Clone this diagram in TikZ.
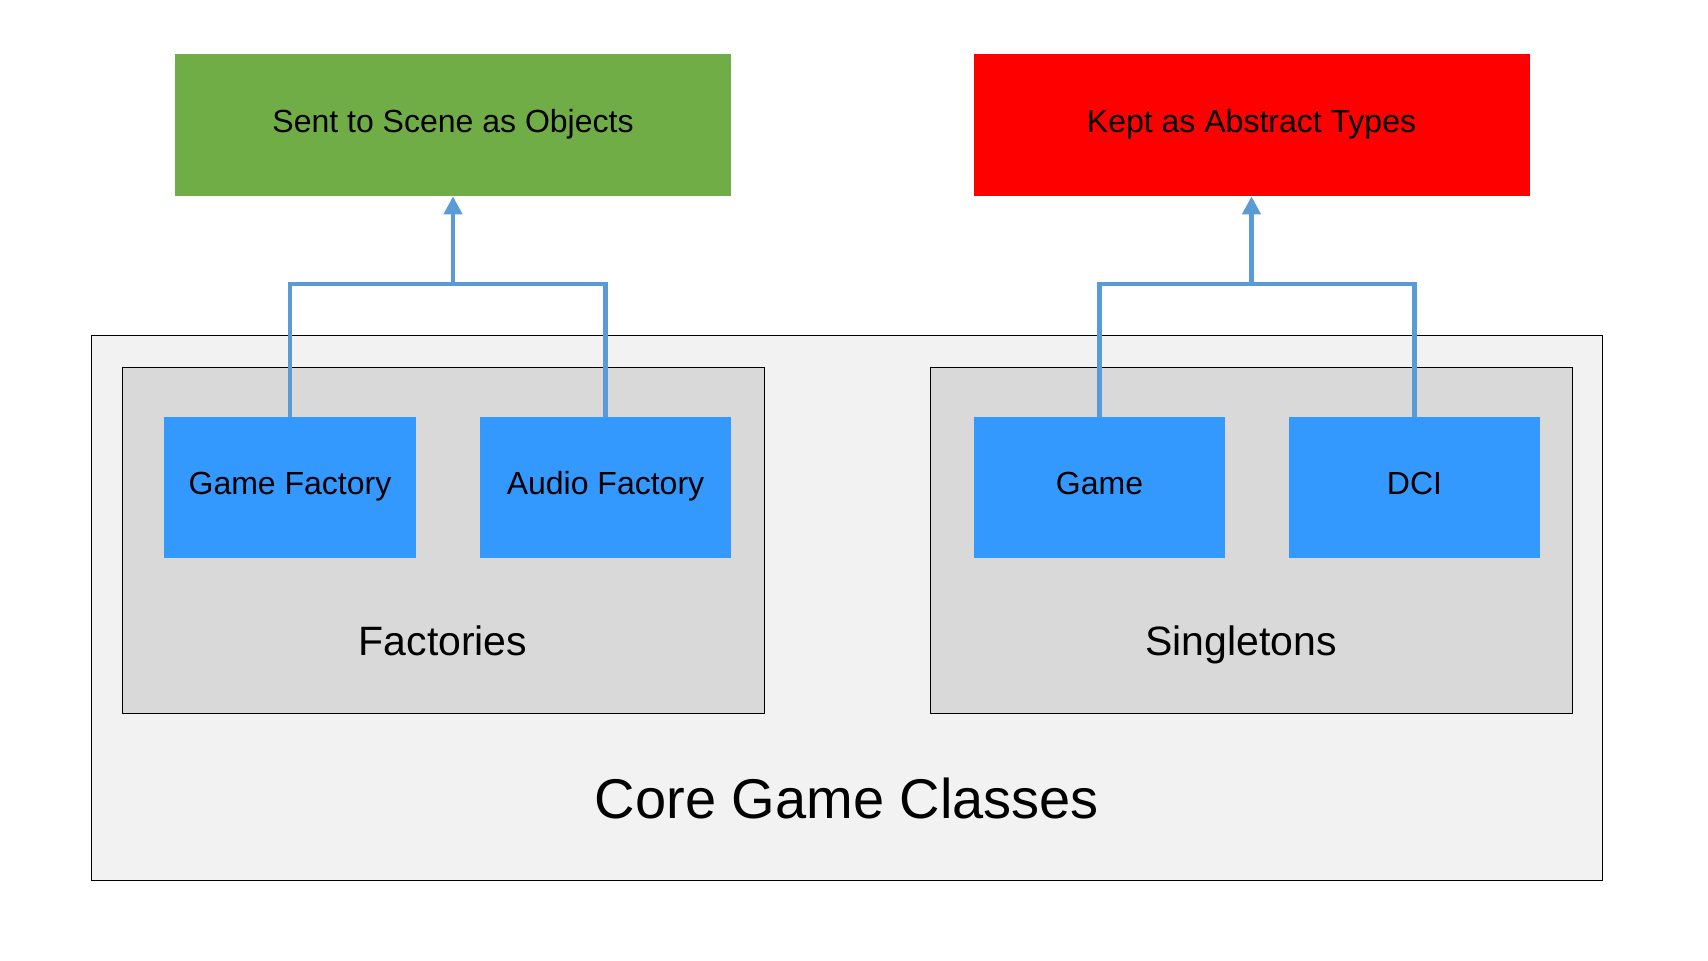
\documentclass[tikz,border=0pt]{standalone}
\usepackage{fontspec}
\setmainfont{Liberation Sans}
\usetikzlibrary{arrows.meta}
\definecolor{sentgreen}{HTML}{70AD47}
\definecolor{keptred}{HTML}{FF0000}
\definecolor{classblue}{HTML}{3399FF}
\definecolor{linkblue}{HTML}{5B9BD5}
\tikzset{
  catbox/.style={minimum width=278pt,minimum height=71pt,text height=0.72em,text depth=0pt,font=\fontsize{16}{19}\selectfont},
  classbox/.style={fill=classblue,minimum width=125.75pt,minimum height=70.5pt,text height=0.72em,text depth=0pt,font=\fontsize{16}{19}\selectfont},
  groupbox/.style={draw=black,fill=black!15,minimum width=321pt,minimum height=173pt},
  grouplabel/.style={anchor=base,font=\fontsize{20.5}{24}\selectfont},
  link/.style={draw=linkblue,line width=2.2pt},
  uparrow/.style={-{Triangle[width=9pt,length=9pt]}}
}
\begin{document}
\begin{tikzpicture}[x=0.5pt,y=-0.5pt]
  \useasboundingbox[fill=white] (0,0) rectangle (1708,960);
  % outer box
  \node[draw=black,fill=black!5,minimum width=755.75pt,minimum height=272.75pt] (core) at (847,608) {};
  \node[anchor=base,font=\fontsize{28}{33}\selectfont] (corelabel) at (847,818) {Core Game Classes};
  % groups
  \node[groupbox] (fact) at (443,540) {};
  \node[groupbox] (single) at (1251.5,540) {};
  \node[grouplabel] (factlabel) at (443,655) {Factories};
  \node[grouplabel] (singlelabel) at (1241,655) {Singletons};
  % classes
  \node[classbox] (gf) at (290,487.5) {Game Factory};
  \node[classbox] (af) at (605.5,487.5) {Audio Factory};
  \node[classbox] (game) at (1099.5,487.5) {Game};
  \node[classbox] (dci) at (1414.5,487.5) {DCI};
  % targets
  \node[catbox,fill=sentgreen] (sent) at (453,125) {Sent to Scene as Objects};
  \node[catbox,fill=keptred] (kept) at (1251.5,125) {Kept as Abstract Types};
  % connectors
  \coordinate (jf) at (453,284);
  \coordinate (js) at (1251.5,284);
  \draw[link] (gf.north) |- (jf) -| (af.north);
  \draw[link,uparrow] (jf) -- (sent.south);
  \draw[link] (game.north) |- (js) -| (dci.north);
  \draw[link,uparrow] (js) -- (kept.south);
\end{tikzpicture}
\end{document}
